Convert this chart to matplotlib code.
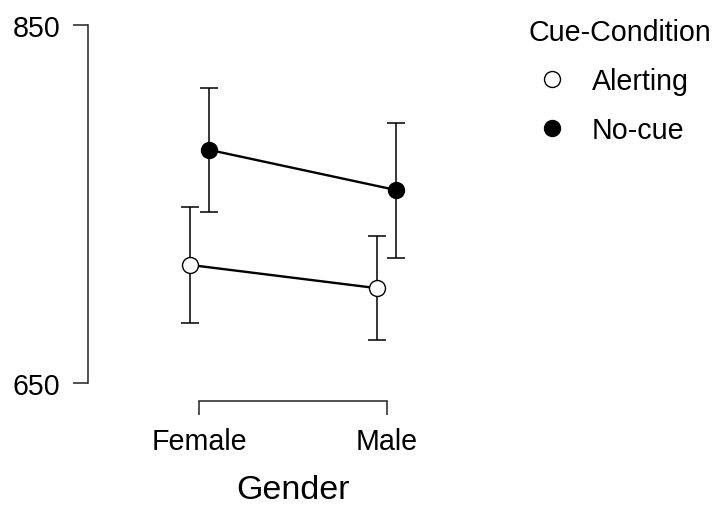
import numpy as np
import matplotlib.pyplot as plt
from matplotlib.lines import Line2D

plt.rcParams['font.family'] = ['Liberation Sans', 'DejaVu Sans']

# data
gender = ['Female', 'Male']
conditions = ['Alerting', 'No-cue']
alerting_mean = [715.9, 702.9]
alerting_ci = [32.5, 28.9]
nocue_mean = [780.2, 757.7]
nocue_ci = [34.7, 37.7]
y_ticks = [650, 850]

x = np.arange(len(gender))
dodge = 0.05

fig = plt.figure(figsize=(7.12, 5.06), dpi=100)
ax = fig.add_axes([88 / 712, 1 - 401.7 / 506, (500 - 88) / 712, (401.7 - 25.7) / 506])

series = [
    (alerting_mean, alerting_ci, 'white', -dodge),
    (nocue_mean, nocue_ci, 'black', dodge),
]
for mean, ci, face, off in series:
    xs = x + off
    ax.errorbar(xs, mean, yerr=ci, fmt='none', ecolor='black', elinewidth=1.1,
                capsize=6.7, capthick=1.1, zorder=1)
    ax.plot(xs, mean, color='black', lw=1.7, zorder=2)
    ax.plot(xs, mean, ls='none', marker='o', ms=11.5, mfc=face, mec='black',
            mew=1.0, zorder=3)

ax.set_xlim(-0.594, 1.605)
ax.set_ylim(640.1, 850)
ax.set_yticks(y_ticks)
ax.set_xticks(x)
ax.set_xticklabels(gender)

for s in ['top', 'right']:
    ax.spines[s].set_visible(False)
ax.spines['left'].set_bounds(650, 850)
ax.spines['bottom'].set_bounds(0, 1)
for s in ['left', 'bottom']:
    ax.spines[s].set_linewidth(1.1)
    ax.spines[s].set_color('#222222')

ax.tick_params(axis='y', length=11, width=1.1, color='#222222', pad=9, labelsize=20.6)
ax.tick_params(axis='x', length=10, width=1.1, color='#222222', pad=9, labelsize=20.6)
ax.set_xlabel('Gender', fontsize=24.5)
ax.xaxis.set_label_coords((0.5 + 0.594) / (1.605 + 0.594), -0.195)

handles = [
    Line2D([], [], ls='none', marker='o', ms=11.5, mfc='white', mec='black', mew=1.0),
    Line2D([], [], ls='none', marker='o', ms=11.5, mfc='black', mec='black', mew=1.0),
]
leg = fig.legend(handles, conditions, title='Cue-Condition', loc='upper left',
                 bbox_to_anchor=(528 / 712, 1 - 19 / 506), frameon=False,
                 fontsize=20.6, title_fontsize=20.6, alignment='left',
                 handlelength=1.7, handletextpad=0.53, labelspacing=0.74,
                 borderpad=0, borderaxespad=0)

fig.savefig('out.png', dpi=100)
